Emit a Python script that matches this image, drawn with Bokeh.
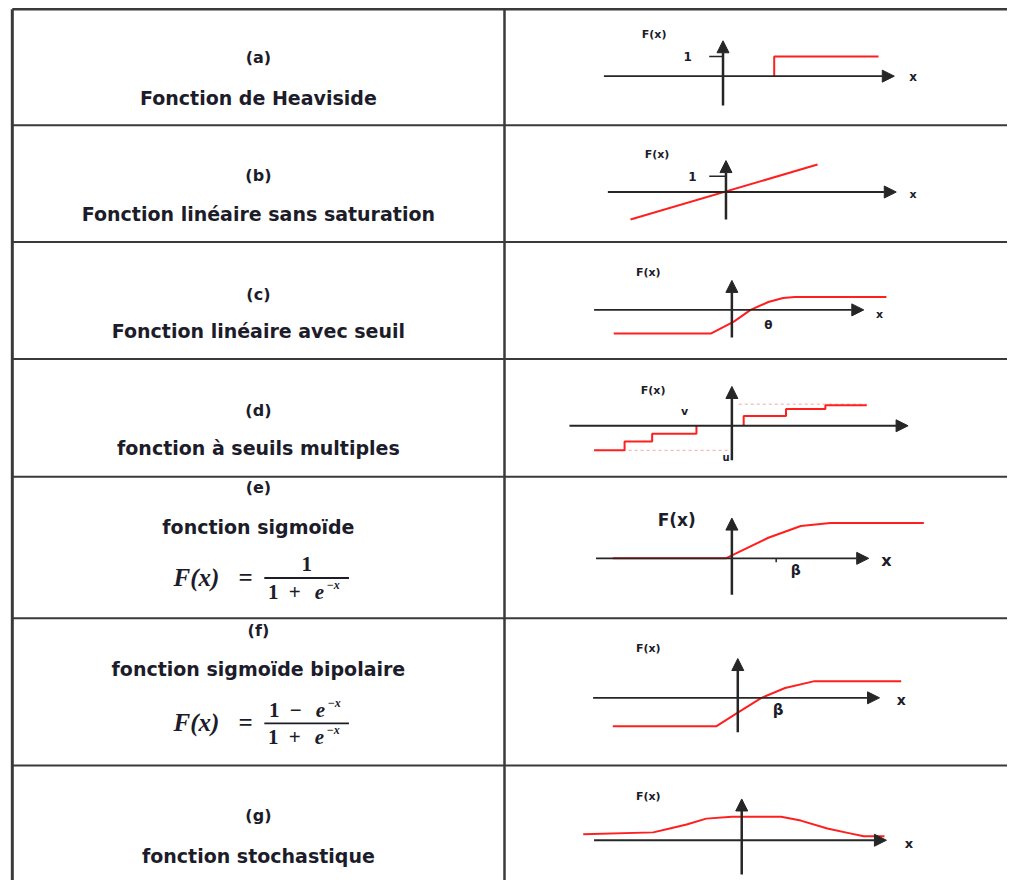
from bokeh.plotting import figure
from bokeh.models import Range1d, Arrow, NormalHead
from bokeh.core.properties import value
from bokeh.embed import file_html
from bokeh.resources import INLINE

# ---------------- data ----------------
ROW_TAGS = ["(a)", "(b)", "(c)", "(d)", "(e)", "(f)", "(g)"]
ROW_NAMES = [
    "Fonction de Heaviside",
    "Fonction linéaire sans saturation",
    "Fonction linéaire avec seuil",
    "fonction à seuils multiples",
    "fonction sigmoïde",
    "fonction sigmoïde bipolaire",
    "fonction stochastique",
]

# sketch curves in local units (right / up from each sketch's origin)
HEAVISIDE_X = [52, 52, 158]
HEAVISIDE_Y = [0, 20, 20]
LINEAR_X = [-97, 93]
LINEAR_Y = [-28, 28]
THRESHOLD_X = [-120, -21, 2, 19, 37, 52, 64, 157]
THRESHOLD_Y = [-24, -24, -12, 0, 8, 12, 13, 13]
MULTI_NEG_X = [-140, -109, -109, -81, -81, -36, -36]
MULTI_NEG_Y = [-25, -25, -16, -16, -8, -8, 0]
MULTI_POS_X = [12, 12, 55, 55, 95, 95, 137]
MULTI_POS_Y = [0, 10, 10, 17, 17, 21, 21]
SIGMOID_X = [-121, -6, 0, 37, 70, 100, 195]
SIGMOID_Y = [0, 0, 3, 21, 33, 36, 36]
BIPOLAR_X = [-127, -22, 0, 24, 48, 78, 166]
BIPOLAR_Y = [-29, -29, -15, 0, 10, 17, 17]
STOCH_X = [-161, -90, -73, -56, -36, -10, 40, 60, 87, 110, 124, 145]
STOCH_Y = [6, 8, 12, 16, 22, 24, 24, 20, 12, 7, 4, 4]

CURVES = [
    [(HEAVISIDE_X, HEAVISIDE_Y)],
    [(LINEAR_X, LINEAR_Y)],
    [(THRESHOLD_X, THRESHOLD_Y)],
    [(MULTI_NEG_X, MULTI_NEG_Y), (MULTI_POS_X, MULTI_POS_Y)],
    [(SIGMOID_X, SIGMOID_Y)],
    [(BIPOLAR_X, BIPOLAR_Y)],
    [(STOCH_X, STOCH_Y)],
]

# ---------------- layout ----------------
W, H = 1007, 880
ROW_LINES = [127, 246, 365, 485, 629, 779]
TAG_Y = [58, 178, 299, 417, 496, 641, 830]
NAME_Y = [99, 217, 336, 456, 536, 681, 871]
COL_CENTER = 262

ORIGINS = [(734, 77), (737, 195), (743, 315), (743, 433), (743, 568), (749, 710), (753, 855)]
H_AXIS = [(-121, 174), (-120, 173), (-140, 134), (-165, 179), (-138, 139), (-147, 144), (-150, 147)]
V_AXIS = [(-30, 36), (-28, 32), (-28, 30), (-35, 40), (-37, 41), (-35, 40), (-35, 42)]

# (panel, lx, ly, text, size)
SKETCH_LABELS = [
    (0, -70, 42, "F(x)", 11), (0, 193, -1, "x", 12), (0, -36, 20, "1", 12),
    (1, -70, 38, "F(x)", 11), (1, 190, -3, "x", 11), (1, -34, 16, "1", 12),
    (2, -85, 38, "F(x)", 11), (2, 150, -5, "x", 11), (2, 37, -15, "θ", 12),
    (3, -80, 36, "F(x)", 11), (3, -48, 15, "v", 11), (3, -6, -32, "u", 10),
    (4, -56, 39, "F(x)", 17), (4, 157, -2, "x", 16), (4, 65, -12, "β", 14),
    (5, -91, 50, "F(x)", 11), (5, 166, -2, "x", 14), (5, 41, -12, "β", 15),
    (6, -95, 45, "F(x)", 11), (6, 170, -3, "x", 13),
]

RED = "#ff1f1f"
AXIS_C = "#262626"
LINE_C = "#3a3a3a"
TXT_C = "#1c1c2a"
SANS = value("DejaVu Sans")
SERIF = value("Liberation Serif")

p = figure(width=W, height=H, x_range=Range1d(0, 1023), y_range=Range1d(896, 0),
           output_backend="svg", toolbar_location=None, min_border=0)
p.axis.visible = False
p.grid.visible = False
p.outline_line_color = None
p.background_fill_color = "white"
p.border_fill_color = "white"

# ---- table borders ----
p.segment(x0=[12], y0=[9], x1=[12], y1=[896], line_color=LINE_C, line_width=3)
p.segment(x0=[12], y0=[9], x1=[1023], y1=[9], line_color=LINE_C, line_width=2.5)
p.segment(x0=[512], y0=[9], x1=[512], y1=[896], line_color=LINE_C, line_width=2.5)
p.segment(x0=[12] * len(ROW_LINES), y0=ROW_LINES, x1=[1023] * len(ROW_LINES), y1=ROW_LINES,
          line_color=LINE_C, line_width=2)

# ---- left column text ----
p.text(x=[COL_CENTER] * 7, y=TAG_Y, text=ROW_TAGS, text_font=SANS, text_font_style="bold",
       text_font_size="16px", text_align="center", text_baseline="middle", text_color=TXT_C)
p.text(x=[COL_CENTER] * 7, y=NAME_Y, text=ROW_NAMES, text_font=SANS, text_font_style="bold",
       text_font_size="19px", text_align="center", text_baseline="middle", text_color=TXT_C)

# ---- formulas ----
def formula(yc, num_parts, den_parts):
    p.text(x=[199], y=[yc], text=["F(x)"], text_font=SERIF, text_font_style="bold italic",
           text_font_size="25px", text_align="center", text_baseline="middle", text_color=TXT_C)
    p.text(x=[249], y=[yc], text=["="], text_font=SERIF, text_font_style="bold",
           text_font_size="25px", text_align="center", text_baseline="middle", text_color=TXT_C)
    p.segment(x0=[268], y0=[yc + 1], x1=[354], y1=[yc + 1], line_color=TXT_C, line_width=1.8)
    for parts, y in ((num_parts, yc - 13), (den_parts, yc + 15)):
        for (xx, t, style, size, dy) in parts:
            p.text(x=[xx], y=[y + dy], text=[t], text_font=SERIF, text_font_style=style,
                   text_font_size=size, text_align="center", text_baseline="middle", text_color=TXT_C)

den = [(277, "1", "bold", "21px", 0), (299, "+", "bold", "21px", 0),
       (324, "e", "bold italic", "21px", 0), (338, "−x", "bold italic", "12px", -7)]
formula(587, [(311, "1", "bold", "21px", 0)], den)
num_f = [(278, "1", "bold", "21px", 0), (300, "−", "bold", "21px", 0),
         (325, "e", "bold italic", "21px", 0), (339, "−x", "bold italic", "12px", -7)]
formula(735, num_f, den)

# ---- sketches ----
for i, (ox, oy) in enumerate(ORIGINS):
    l, r = H_AXIS[i]
    d, u = V_AXIS[i]
    p.add_layout(Arrow(end=NormalHead(size=12, fill_color=AXIS_C, line_color=AXIS_C),
                       x_start=ox + l, y_start=oy, x_end=ox + r, y_end=oy,
                       line_color=AXIS_C, line_width=1.8))
    p.add_layout(Arrow(end=NormalHead(size=12, fill_color=AXIS_C, line_color=AXIS_C),
                       x_start=ox, y_start=oy - d, x_end=ox, y_end=oy - u,
                       line_color=AXIS_C, line_width=2.5))

# dashed guides in (d)
ox, oy = ORIGINS[3]
p.segment(x0=[ox + 7, ox - 111], y0=[oy - 22, oy + 25], x1=[ox + 137, ox - 3], y1=[oy - 22, oy + 25],
          line_color="#f2a6a6", line_width=1, line_dash="3 3")

# ticks
ticks = [(0, -14, 20, 0, 20), (1, -17, 16, 0, 16), (4, 45, 0, 45, -4)]
for (k, x0, y0, x1, y1) in ticks:
    ox, oy = ORIGINS[k]
    p.segment(x0=[ox + x0], y0=[oy - y0], x1=[ox + x1], y1=[oy - y1], line_color=AXIS_C, line_width=1.5)

for i, curves in enumerate(CURVES):
    ox, oy = ORIGINS[i]
    for xs, ys in curves:
        p.line(x=[ox + v for v in xs], y=[oy - v for v in ys], line_color=RED, line_width=2)

for (k, lx, ly, t, size) in SKETCH_LABELS:
    ox, oy = ORIGINS[k]
    p.text(x=[ox + lx], y=[oy - ly], text=[t], text_font=SANS, text_font_style="bold",
           text_font_size=f"{size}px", text_align="center", text_baseline="middle", text_color=TXT_C)

open("out.html", "w").write(file_html(p, INLINE))
